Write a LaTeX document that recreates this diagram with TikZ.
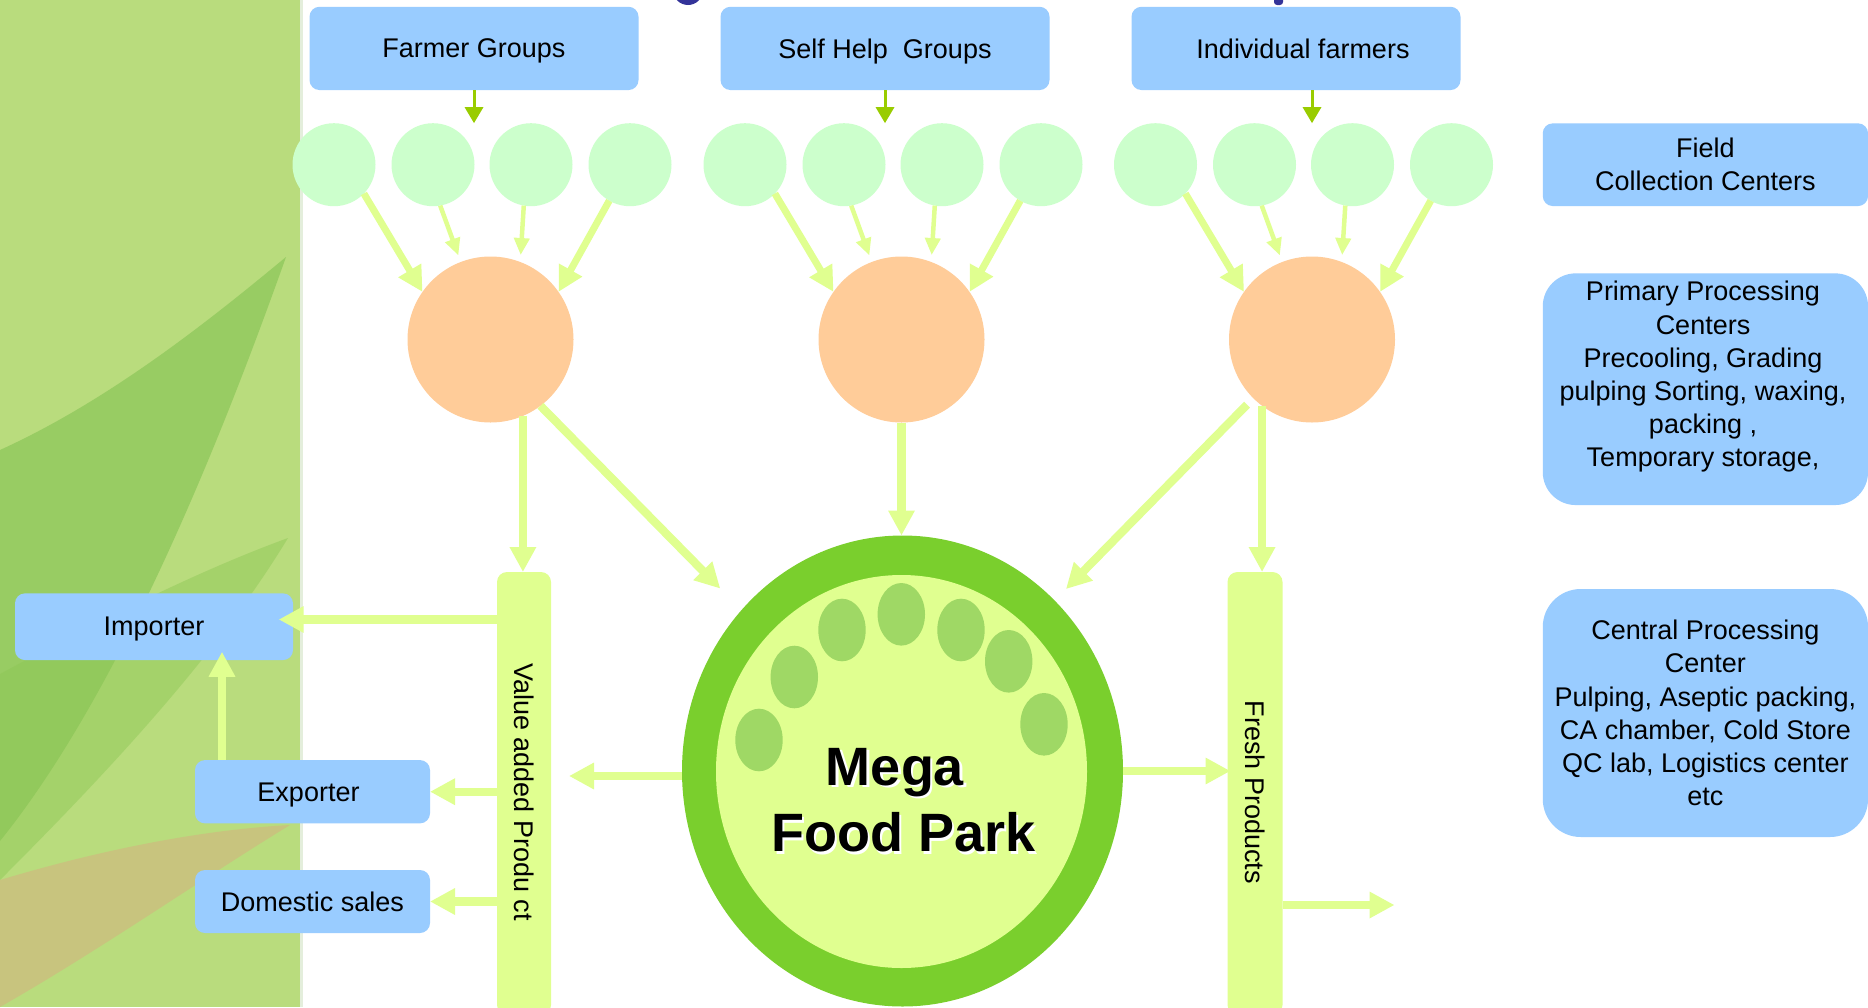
\documentclass[tikz,border=0pt]{standalone}
\usepackage{fontspec}
\setmainfont{Liberation Sans}
\usetikzlibrary{arrows.meta,calc,shapes.geometric}
\definecolor{boxblue}{HTML}{99CCFF}
\definecolor{mintcol}{HTML}{CCFFCC}
\definecolor{peachcol}{HTML}{FFCC99}
\definecolor{alight}{HTML}{E0FF90}
\definecolor{adark}{HTML}{99CC00}
\definecolor{mfpout}{HTML}{7ACF2D}
\definecolor{mfpin}{HTML}{E0FF90}
\definecolor{ovalcol}{HTML}{9FD865}
\definecolor{titleblue}{HTML}{333399}
\definecolor{panelg}{HTML}{B9DC7D}
\definecolor{leafa}{HTML}{98CC63}
\definecolor{leafb}{HTML}{8CC655}
\definecolor{tancol}{HTML}{C8C47E}
\definecolor{edgegray}{HTML}{E4EEDC}
\newcommand\myfs{\fontsize{27}{33.2}\selectfont}
\newcommand\bigfs{\fontsize{54}{66}\selectfont\bfseries}
\begin{document}
\begin{tikzpicture}[x=1pt,y=-1pt,
  bx/.style={fill=boxblue, rounded corners=10pt, inner sep=0pt, outer sep=0pt, font=\myfs, align=center},
  onel/.style={bx, text depth=0pt},
  smallc/.style={circle, fill=mintcol, minimum size=83pt, inner sep=0pt, outer sep=0pt},
  orangec/.style={circle, fill=peachcol, minimum size=166pt, inner sep=0pt, outer sep=0pt},
  vbar/.style={fill=alight, rounded corners=10pt, minimum width=54pt, minimum height=443pt, inner sep=0pt, outer sep=0pt},
  fatarrow/.style={draw=alight, line width=8.3pt, -{Triangle[width=25pt,length=25pt]}},
  midarrow/.style={draw=alight, line width=7pt, -{Triangle[width=25pt,length=25pt]}},
  thinarrow/.style={draw=alight, line width=4.5pt, -{Triangle[width=15pt,length=17pt]}},
  darrow/.style={draw=adark, line width=3pt, -{Triangle[width=18pt,length=16pt]}}
]
\useasboundingbox (0,0) rectangle (1868,1007);
\clip (0,0) rectangle (1868,1007);
\fill[white] (0,0) rectangle (1868,1007);
% left decorative panel
\fill[panelg] (0,0) rectangle (300,1007);
\fill[leafa] (0,450) .. controls (110,400) and (210,320) .. (286,257) .. controls (235,400) and (130,680) .. (0,841) -- cycle;
\fill[leafb, opacity=0.45] (0,674) .. controls (100,620) and (200,570) .. (288,538) .. controls (220,650) and (120,760) .. (0,880) -- cycle;
\fill[tancol] (0,880) .. controls (100,850) and (200,830) .. (290,825) .. controls (200,880) and (100,950) .. (0,1007) -- cycle;
\fill[edgegray] (300,0) rectangle (303,1007);
% title fragments
\fill[titleblue] (688,-10) ellipse [x radius=15pt, y radius=15pt];
\fill[titleblue, rounded corners=3pt] (1274,-8) rectangle (1283,5);
% top boxes
\node[onel, minimum width=329pt, minimum height=83.3pt] (fg) at (474,48.4) {Farmer Groups};
\node[onel, minimum width=329pt, minimum height=83.3pt] (shg) at (885,48.4) {Self Help\ \ Groups};
\node[onel, minimum width=329pt, minimum height=83.3pt] (if) at (1296,48.4) {\hspace*{14pt}Individual farmers};
% small circles
\foreach \g/\dx in {1/0,2/411,3/821.5}{
  \node[smallc] (c\g1) at (334+\dx,164.7) {};
  \node[smallc] (c\g2) at (433+\dx,164.7) {};
  \node[smallc] (c\g3) at (531+\dx,164.7) {};
  \node[smallc] (c\g4) at (630+\dx,164.7) {};
}
% orange circles
\node[orangec] (o1) at (490.5,339.5) {};
\node[orangec] (o2) at (901.5,339.5) {};
\node[orangec] (o3) at (1312,339.5) {};
% arrows from top boxes
\draw[darrow] (fg.south) -- (fg.south |- c12.north);
\draw[darrow] (shg.south) -- (shg.south |- c22.north);
\draw[darrow] ($(if.south)+(16,0)$) -- ($(if.south |- c32.north)+(16,0)$);
% arrows small -> orange
\foreach \g in {1,2,3}{
  \draw[midarrow] (c\g1.-44) -- (o\g.145);
  \draw[thinarrow, shorten >=7pt] (c\g2.-80) -- (o\g.111);
  \draw[thinarrow, shorten >=7pt] (c\g3.-100) -- (o\g.69);
  \draw[midarrow] (c\g4.-120) -- (o\g.35);
}
% bars
\node[vbar] (vab) at (524,793.5) {};
\node[rotate=-90, font=\myfs, inner sep=0pt] (vabt) at (524,792) {Value added Produ ct};
\node[vbar, minimum width=55pt] (fp) at (1255,793.5) {};
\node[rotate=-90, font=\myfs, inner sep=0pt] (fpt) at (1255.6,792.3) {Fresh Products};
% mega food park
\node[ellipse, fill=mfpout, minimum width=441pt, minimum height=471pt, inner sep=0pt, outer sep=0pt] (mfp) at (902.5,771) {};
\fill[mfpin] (901.5,771.5) ellipse [x radius=185.5pt, y radius=196.5pt];
\foreach \x/\y in {759/740, 794.3/677, 842/630, 901.3/614.3, 961/630, 1008.7/661.3, 1044/724.3}
  \fill[ovalcol] (\x,\y) ellipse [x radius=23.7pt, y radius=31.3pt];
\node[anchor=base, font=\bigfs, text=white, inner sep=0pt] at (897.5,787.5) {Mega};
\node[anchor=base, font=\bigfs, inner sep=0pt] (mega) at (895,785) {Mega};
\node[anchor=base, font=\bigfs, text=white, inner sep=0pt] at (905.8,854.2) {Food Park};
\node[anchor=base, font=\bigfs, inner sep=0pt] (fpark) at (903.3,851.7) {Food Park};
% arrows orange -> bars / park
\draw[fatarrow] (o1.-67) -- (o1.-67 |- vab.north);
\draw[fatarrow] (o1.-53.5) -- ($(mfp.135)+(-21.3,-21.5)$);
\draw[fatarrow] (o2.south) -- (o2.south |- mfp.north);
\draw[fatarrow, shorten <=9pt] (o3.-135) -- ($(mfp.45)+(2.5,-21)$);
\draw[fatarrow] (o3.-127) -- (o3.-127 |- fp.north);
% park -> bars
\draw[fatarrow] ($(mfp.west)+(0,5)$) -- ($(vab.east |- mfp.west)+(18,5)$);
\draw[fatarrow] (mfp.east) -- ($(fp.west |- mfp.east)+(3,0)$);
\coordinate (fpout) at ($(fp.east)+(112,111.5)$);
\draw[fatarrow] ($(fp.east)+(0,111.5)$) -- (fpout);
% left boxes
\node[onel, minimum width=278pt, minimum height=66.7pt] (imp) at (154,626.7) {Importer};
\node[onel, minimum width=235pt, minimum height=63.3pt] (exp) at (312.5,791.7) {Exporter\hspace*{8pt}};
\node[onel, minimum width=235pt, minimum height=63pt] (dom) at (312.5,901.5) {Domestic sales};
\draw[fatarrow] ($(vab.west)+(0,-174)$) -- ($(imp.east)+(-14.3,-7.2)$);
\draw[fatarrow] (vab.west |- exp.east) -- (exp.east);
\draw[fatarrow] (vab.west |- dom.east) -- (dom.east);
\draw[fatarrow] ($(exp.north)+(-90.5,0)$) -- ($(imp.south)+(68,-8.3)$);
% right boxes
\node[bx, minimum width=325.3pt, minimum height=82.7pt] (fcc) at (1705.4,164.7) {Field\\Collection Centers};
\node[bx, rounded corners=33pt, minimum width=325.3pt, minimum height=231.7pt] (ppc) at (1705.4,389.2) {};
\node[font=\myfs, align=center, inner sep=0pt] (ppct) at (1703,377) {Primary Processing\\Centers\\Precooling, Grading\\pulping Sorting, waxing,\\packing ,\\Temporary storage,};
\node[bx, rounded corners=38pt, minimum width=325.3pt, minimum height=248pt] (cpc) at (1705.4,713) {Central Processing\\Center\\Pulping, Aseptic packing,\\CA chamber, Cold Store\\QC lab, Logistics center\\etc};
\end{tikzpicture}
\end{document}
